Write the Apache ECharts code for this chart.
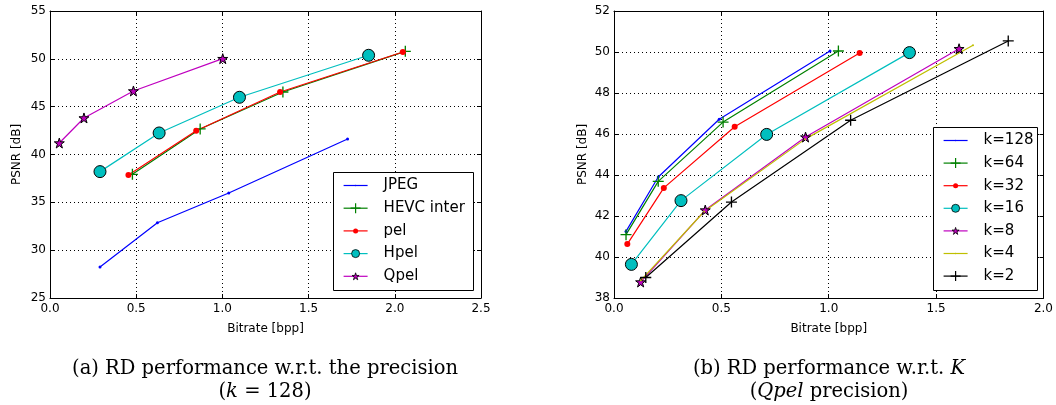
<!DOCTYPE html>
<html>
<head>
<meta charset="utf-8">
<script src="https://cdn.jsdelivr.net/npm/echarts@6/dist/echarts.min.js"></script>
<style>
html,body{margin:0;padding:0;background:#fff;}
#c{width:1056px;height:405px;}
</style>
</head>
<body>
<div id="c"></div>
<script>
// ---------- data (a) ----------
const namesA = ['JPEG', 'HEVC inter', 'pel', 'Hpel', 'Qpel'];
const jpeg  = [[0.29, 28.24], [0.623, 32.87], [1.037, 35.98], [1.726, 41.62]];
const hevc  = [[0.478, 37.93], [0.871, 42.67], [1.351, 46.53], [2.061, 50.78]];
const pel   = [[0.455, 37.86], [0.848, 42.49], [1.335, 46.53], [2.047, 50.71]];
const hpel  = [[0.29, 38.21], [0.633, 42.25], [1.099, 45.98], [1.848, 50.37]];
const qpel  = [[0.054, 41.2], [0.197, 43.82], [0.484, 46.64], [1.002, 50.02]];
// ---------- data (b) ----------
const namesB = ['k=128', 'k=64', 'k=32', 'k=16', 'k=8', 'k=4', 'k=2'];
const k128 = [[0.056, 41.25], [0.206, 43.9], [0.49, 46.72], [1.006, 50.05]];
const k64  = [[0.056, 41.09], [0.206, 43.69], [0.508, 46.58], [1.045, 50.05]];
const k32  = [[0.062, 40.63], [0.232, 43.37], [0.562, 46.35], [1.144, 49.95]];
const k16  = [[0.081, 39.64], [0.312, 42.75], [0.711, 45.98], [1.376, 49.97]];
const k8   = [[0.124, 38.78], [0.425, 42.29], [0.892, 45.85], [1.607, 50.16]];
const k4   = [[0.125, 38.86], [0.42, 42.22], [0.89, 45.75], [1.672, 50.33]];
const k2   = [[0.148, 39.0], [0.547, 42.68], [1.102, 46.67], [1.836, 50.54]];
// ---------- axis ticks ----------
const xTicksA = {min: 0, max: 2.5, step: 0.5};
const yTicksA = {min: 25, max: 55, step: 5};
const xTicksB = {min: 0, max: 2.0, step: 0.5};
const yTicksB = {min: 38, max: 52, step: 2};
const captionA = ['(a) RD performance w.r.t. the precision', '({i|k} = 128)'];
const captionB = ['(b) RD performance w.r.t. {i|K}', '({i|Qpel} precision)'];

const FONT = 'DejaVu Sans';
const SERIF = 'DejaVu Serif';
const CAP_SIZE = 19.5;
const C = {b: '#0000ff', g: '#008000', r: '#ff0000', c: '#00bfbf', m: '#bf00bf', y: '#bfbf00', k: '#000000'};
const PLUS = 'path://M4.4,0H5.6V4.4H10V5.6H5.6V10H4.4V5.6H0V4.4H4.4Z';
const STAR = 'path://M5,0L6.12,3.45L9.76,3.45L6.82,5.59L7.94,9.05L5,6.91L2.06,9.05L3.18,5.59L0.24,3.45L3.88,3.45Z';

const styles = {
  point: {symbol: 'circle', symbolSize: 3, legendSize: 1.5, border: 0},
  plus: {symbol: PLUS, symbolSize: 11, legendSize: 10, border: 0},
  dot: {symbol: 'circle', symbolSize: 6, legendSize: 5, border: 0},
  circle: {symbol: 'circle', symbolSize: 12, legendSize: 8, border: 1},
  star: {symbol: STAR, symbolSize: 10, legendSize: 7, border: 1},
  none: {symbol: 'circle', symbolSize: 2, legendSize: 1.5, border: 0}
};

function mk(name, data, color, st, ax) {
  const s = styles[st];
  return {
    type: 'line', name: name, data: data,
    xAxisIndex: ax, yAxisIndex: ax,
    symbol: s.symbol, symbolSize: s.symbolSize, showSymbol: true,
    lineStyle: {color: color, width: 1.2},
    itemStyle: {color: color, borderColor: s.border ? '#000' : color, borderWidth: s.border ? 1 : 0, opacity: 1},
    emphasis: {disabled: true},
    animation: false, z: 2
  };
}

function grid(left) { return {left: left, top: 11, width: 431, height: 287, containLabel: false}; }

const gridLine = {show: true, lineStyle: {color: '#000', type: [1, 3], width: 1}};
const axLine = {show: true, onZero: false, lineStyle: {color: '#000', width: 1}};
const tick = {show: true, inside: true, length: 4, lineStyle: {color: '#000'}};
const lab = {color: '#000', fontFamily: FONT, fontSize: 12};

function xMain(g, t) {
  return {type: 'value', gridIndex: g, min: t.min, max: t.max, interval: t.step, position: 'bottom',
    axisLine: axLine, axisTick: tick, splitLine: gridLine,
    axisLabel: Object.assign({margin: 5, formatter: v => v.toFixed(1)}, lab),
    name: 'Bitrate [bpp]', nameLocation: 'middle', nameGap: 25,
    nameTextStyle: {color: '#000', fontFamily: FONT, fontSize: 12}};
}
function xTop(g, t) {
  return {type: 'value', gridIndex: g, min: t.min, max: t.max, interval: t.step, position: 'top',
    axisLine: axLine, axisTick: tick, splitLine: {show: false}, axisLabel: {show: false}};
}
function yMain(g, t, gap) {
  return {type: 'value', gridIndex: g, min: t.min, max: t.max, interval: t.step, position: 'left',
    axisLine: axLine, axisTick: tick, splitLine: gridLine,
    axisLabel: Object.assign({margin: 4, showMinLabel: true, showMaxLabel: true}, lab),
    name: 'PSNR [dB]', nameLocation: 'middle', nameGap: gap, nameRotate: 90,
    nameTextStyle: {color: '#000', fontFamily: FONT, fontSize: 12}};
}
function yRight(g, t) {
  return {type: 'value', gridIndex: g, min: t.min, max: t.max, interval: t.step, position: 'right',
    axisLine: axLine, axisTick: tick, splitLine: {show: false}, axisLabel: {show: false}};
}

// one legend component per entry so each icon keeps its own marker size
const legendLayoutA = {left: 343, firstCenter: 185.5, step: 22.7, box: [333, 172, 140, 118]};
const legendLayoutB = {left: 943, firstCenter: 140.5, step: 22.6, box: [933, 127, 104, 163]};
const seriesStyleA = ['point', 'plus', 'dot', 'circle', 'star'];
const seriesStyleB = ['point', 'plus', 'dot', 'circle', 'star', 'none', 'plus'];

function legends(names, st, lay) {
  return names.map((n, i) => {
    const s = styles[st[i]];
    const h = s.legendSize / 0.8;
    const boxH = Math.max(h, 15);
    return {
      orient: 'vertical', selectedMode: false, data: [n],
      left: lay.left, top: lay.firstCenter + i * lay.step - boxH / 2, padding: 0,
      itemWidth: 24, itemHeight: h, itemGap: 0, z: 6,
      itemStyle: {borderWidth: s.border ? 0.8 : 0},
      lineStyle: {width: 1.2},
      textStyle: {color: '#000', fontFamily: FONT, fontSize: 15, lineHeight: 15, padding: [0, 0, 0, 11]}
    };
  });
}
function legendBox(b) {
  return {type: 'rect', x: b[0], y: b[1], z: 5, shape: {x: 0.5, y: 0.5, width: b[2], height: b[3]},
    style: {fill: '#fff', stroke: '#000', lineWidth: 1}};
}

function caption(cx, lines) {
  const rich = {i: {fontStyle: 'italic', fontFamily: SERIF, fontSize: CAP_SIZE, fill: '#000'}};
  return lines.map((t, i) => ({
    type: 'text', x: cx, y: 369 + i * 23, z: 5,
    style: {text: t, fontFamily: SERIF, fontSize: CAP_SIZE, fill: '#000', align: 'center', verticalAlign: 'middle', rich: rich}
  }));
}

const option = {
  animation: false,
  backgroundColor: '#fff',
  grid: [grid(50), grid(614)],
  xAxis: [xMain(0, xTicksA), xTop(0, xTicksA), xMain(1, xTicksB), xTop(1, xTicksB)],
  yAxis: [yMain(0, yTicksA, 27), yRight(0, yTicksA), yMain(1, yTicksB, 25), yRight(1, yTicksB)],
  legend: legends(namesA, seriesStyleA, legendLayoutA).concat(legends(namesB, seriesStyleB, legendLayoutB)),
  series: [
    mk(namesA[0], jpeg, C.b, 'point', 0),
    mk(namesA[1], hevc, C.g, 'plus', 0),
    mk(namesA[2], pel, C.r, 'dot', 0),
    mk(namesA[3], hpel, C.c, 'circle', 0),
    mk(namesA[4], qpel, C.m, 'star', 0),
    mk(namesB[0], k128, C.b, 'point', 2),
    mk(namesB[1], k64, C.g, 'plus', 2),
    mk(namesB[2], k32, C.r, 'dot', 2),
    mk(namesB[3], k16, C.c, 'circle', 2),
    mk(namesB[4], k8, C.m, 'star', 2),
    mk(namesB[5], k4, C.y, 'none', 2),
    mk(namesB[6], k2, C.k, 'plus', 2)
  ],
  graphic: [legendBox(legendLayoutA.box), legendBox(legendLayoutB.box)]
    .concat(caption(265, captionA)).concat(caption(829, captionB))
};

const chart = echarts.init(document.getElementById('c'), null, {renderer: 'canvas'});
chart.setOption(option);
</script>
</body>
</html>
